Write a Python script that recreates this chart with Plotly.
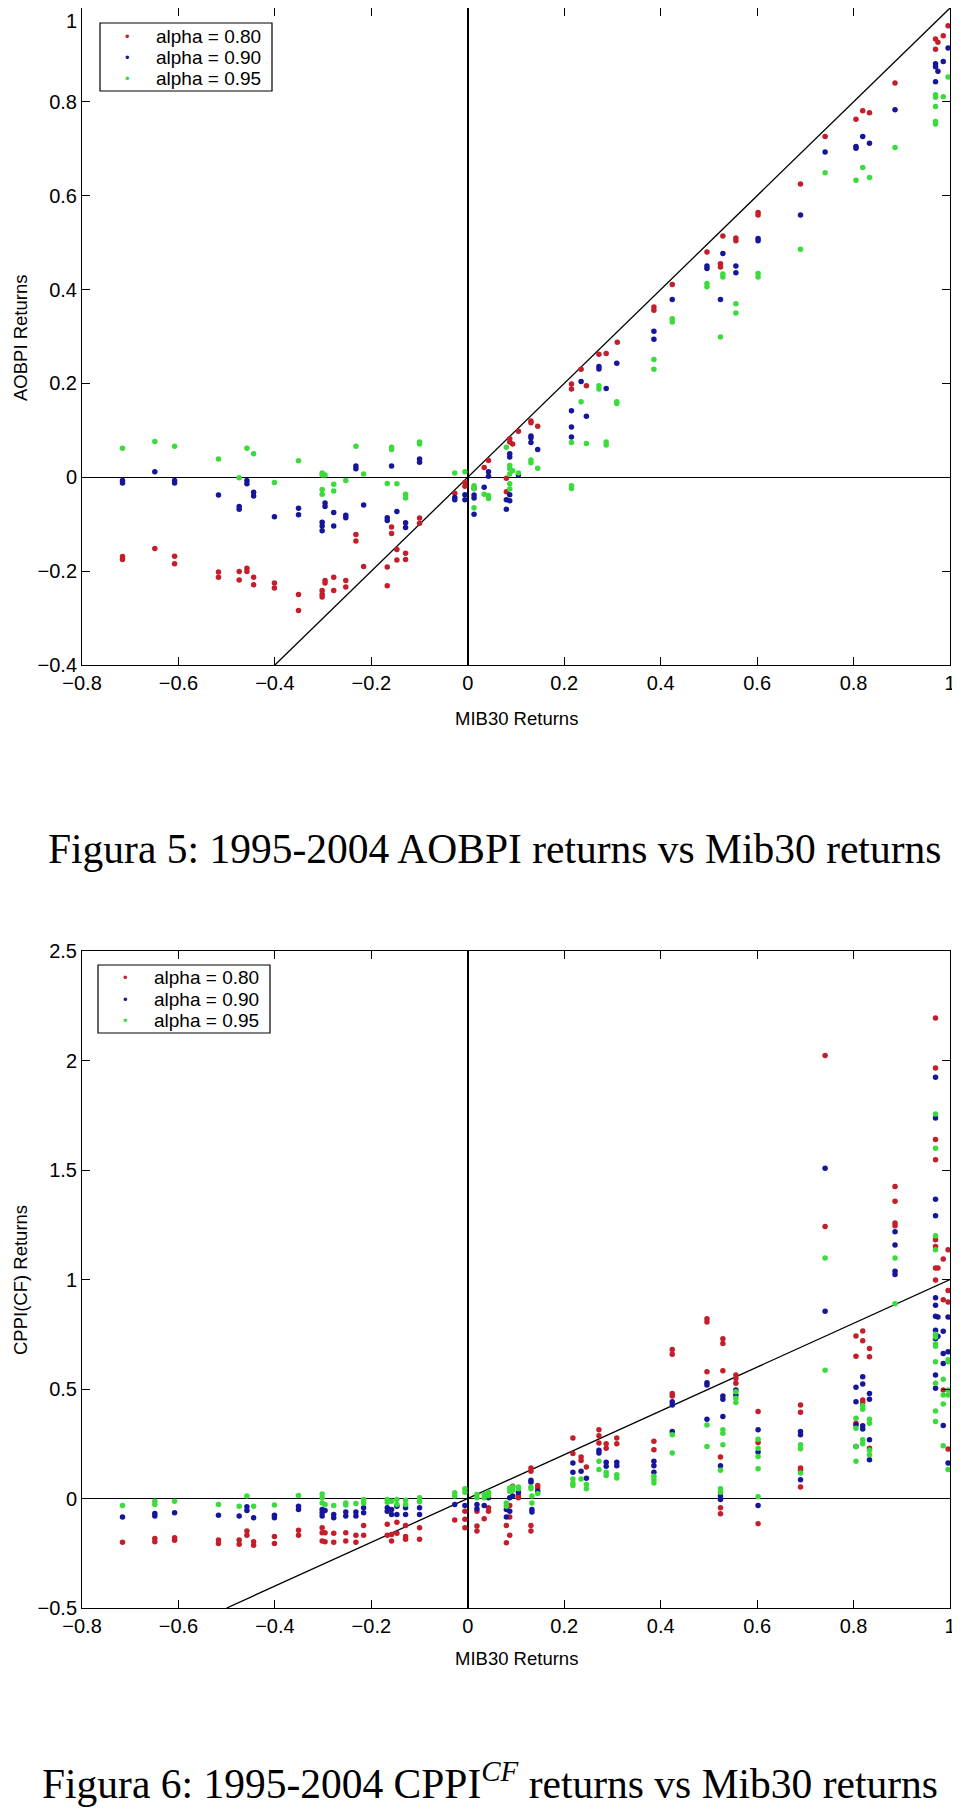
import plotly.graph_objects as go

# ---------------- Figure 5 : AOBPI returns vs MIB30 returns ----------------
aobpi_x_080 = [-0.716,-0.716,-0.649,-0.608,-0.608,-0.517,-0.517,-0.474,-0.474,-0.458,-0.458,-0.444,-0.444,
               -0.401,-0.401,-0.351,-0.351,-0.302,-0.302,-0.302,-0.296,-0.296,-0.278,-0.278,-0.253,-0.253,
               -0.232,-0.232,-0.216,-0.167,-0.167,-0.158,-0.158,-0.147,-0.147,-0.129,-0.129,-0.1,-0.1,
               -0.027,-0.006,-0.006,0.013,0.034,0.043,0.08,0.08,0.087,0.087,0.093,0.105,0.131,0.131,0.145,
               0.215,0.215,0.235,0.246,0.272,0.287,0.31,0.386,0.386,0.424,0.496,0.524,0.524,0.529,0.556,0.556,
               0.602,0.602,0.69,0.741,0.805,0.819,0.833,0.886,0.97,0.97,0.975,0.986,0.996]
aobpi_y_080 = [-0.169,-0.175,-0.152,-0.168,-0.184,-0.202,-0.213,-0.201,-0.219,-0.194,-0.201,-0.213,-0.229,
               -0.225,-0.236,-0.25,-0.284,-0.241,-0.249,-0.255,-0.22,-0.225,-0.213,-0.241,-0.22,-0.234,
               -0.122,-0.136,-0.19,-0.191,-0.231,-0.106,-0.12,-0.154,-0.176,-0.162,-0.175,-0.087,-0.098,
               -0.034,-0.011,-0.019,-0.024,0.021,0.036,-0.002,-0.031,0.082,0.075,0.071,0.098,0.12,0.116,0.109,
               0.199,0.188,0.23,0.195,0.262,0.264,0.288,0.363,0.356,0.411,0.48,0.455,0.448,0.514,0.51,0.504,
               0.564,0.559,0.625,0.726,0.763,0.781,0.777,0.84,0.934,0.912,0.927,0.941,0.962]

aobpi_x_090 = [-0.716,-0.716,-0.649,-0.608,-0.608,-0.517,-0.474,-0.474,-0.458,-0.458,-0.444,-0.444,-0.401,
               -0.351,-0.351,-0.302,-0.302,-0.302,-0.296,-0.296,-0.278,-0.278,-0.253,-0.253,-0.232,-0.232,
               -0.216,-0.167,-0.167,-0.158,-0.147,-0.129,-0.129,-0.1,-0.1,-0.027,-0.027,-0.006,-0.006,
               0.013,0.013,0.013,0.034,0.043,0.043,0.08,0.08,0.087,0.087,0.087,0.087,0.105,0.131,0.131,0.131,
               0.145,0.215,0.215,0.215,0.235,0.246,0.272,0.272,0.287,0.309,0.386,0.386,0.424,0.496,0.496,
               0.524,0.529,0.556,0.556,0.602,0.602,0.69,0.741,0.805,0.805,0.819,0.833,0.886,0.97,0.97,0.97,
               0.975,0.986,0.996]
aobpi_y_090 = [-0.007,-0.012,0.012,-0.007,-0.012,-0.038,-0.062,-0.068,-0.007,-0.014,-0.032,-0.04,-0.084,
               -0.066,-0.08,-0.096,-0.104,-0.114,-0.055,-0.062,-0.075,-0.104,-0.081,-0.086,0.024,0.018,
               -0.059,-0.086,-0.092,0.024,-0.073,-0.097,-0.107,0.039,0.032,-0.043,-0.048,-0.037,-0.048,
               -0.038,-0.044,-0.079,-0.021,0.012,0.002,-0.048,-0.068,0.05,0.043,-0.037,-0.05,0.005,0.088,0.084,0.074,
               0.059,0.142,0.107,0.086,0.204,0.13,0.236,0.231,0.189,0.243,0.311,0.294,0.379,0.45,0.445,
               0.379,0.477,0.45,0.436,0.509,0.504,0.559,0.693,0.705,0.701,0.726,0.712,0.783,0.881,0.875,0.843,
               0.865,0.886,0.915]

aobpi_x_095 = [-0.716,-0.649,-0.608,-0.517,-0.474,-0.458,-0.444,-0.401,-0.351,-0.302,-0.302,-0.302,-0.302,
               -0.296,-0.278,-0.278,-0.253,-0.232,-0.216,-0.167,-0.158,-0.158,-0.147,-0.129,-0.129,-0.1,-0.1,
               -0.027,-0.006,0.013,0.013,0.013,0.034,0.043,0.043,0.08,0.087,0.087,0.087,0.087,0.087,0.093,
               0.105,0.131,0.131,0.145,0.215,0.215,0.215,0.235,0.246,0.272,0.272,0.287,0.287,0.309,0.309,
               0.386,0.386,0.424,0.424,0.496,0.496,0.524,0.529,0.529,0.556,0.556,0.602,0.602,0.69,0.741,
               0.805,0.819,0.833,0.886,0.97,0.97,0.97,0.97,0.97,0.986,0.996]
aobpi_y_095 = [0.062,0.076,0.066,0.039,-0.001,0.062,0.05,-0.011,0.035,0.009,0.005,-0.026,-0.036,
               0.005,-0.015,-0.029,-0.007,0.066,0.007,-0.013,0.064,0.059,-0.014,-0.036,-0.044,0.075,0.071,
               0.009,0.012,-0.018,-0.024,-0.065,-0.036,-0.039,-0.045,0.064,0.025,0.018,0.007,-0.014,-0.025,0.014,
               0.009,0.037,0.031,0.019,0.074,-0.018,-0.024,0.161,0.072,0.195,0.188,0.075,0.069,0.161,0.157,
               0.251,0.23,0.338,0.331,0.413,0.406,0.299,0.433,0.427,0.37,0.35,0.434,0.427,0.486,0.649,
               0.633,0.66,0.639,0.703,0.815,0.81,0.79,0.758,0.753,0.811,0.853]

# ---------------- Figure 6 : CPPI(CF) returns vs MIB30 returns ----------------
cppi_x_080 = [-0.716,-0.649,-0.649,-0.608,-0.608,-0.517,-0.517,-0.474,-0.474,-0.458,-0.458,-0.444,-0.444,
              -0.401,-0.401,-0.351,-0.351,-0.302,-0.302,-0.302,-0.296,-0.296,-0.278,-0.278,-0.253,-0.253,
              -0.232,-0.232,-0.216,-0.216,-0.167,-0.167,-0.158,-0.158,-0.147,-0.147,-0.129,-0.129,-0.129,
              -0.1,-0.1,-0.027,-0.006,-0.006,-0.006,0.019,0.019,0.019,0.034,0.043,0.043,0.08,0.08,
              0.087,0.087,0.087,0.093,0.105,0.105,0.131,0.131,0.131,0.131,0.145,0.145,0.218,0.218,0.235,0.235,
              0.246,0.272,0.272,0.272,0.287,0.287,0.309,0.309,0.386,0.386,0.424,0.424,0.424,0.424,
              0.496,0.496,0.496,0.524,0.524,0.524,0.529,0.529,0.529,0.556,0.556,0.556,0.602,0.602,0.602,
              0.69,0.69,0.69,0.69,0.69,0.741,0.741,0.805,0.805,0.805,0.819,0.819,0.819,0.819,0.833,0.833,0.833,
              0.886,0.886,0.886,0.886,0.97,0.97,0.97,0.97,0.97,0.97,0.97,0.97,0.975,0.986,0.986,0.986,
              0.996,0.996,0.996,0.996]
cppi_y_080 = [-0.2,-0.183,-0.198,-0.179,-0.191,-0.189,-0.205,-0.189,-0.209,-0.148,-0.168,-0.198,-0.214,
              -0.174,-0.205,-0.145,-0.168,-0.133,-0.156,-0.194,-0.156,-0.198,-0.159,-0.2,-0.156,-0.194,
              -0.168,-0.2,-0.123,-0.168,-0.118,-0.168,-0.164,-0.194,-0.108,-0.159,-0.123,-0.174,-0.186,
              -0.133,-0.186,-0.098,-0.058,-0.095,-0.133,-0.058,-0.126,-0.148,-0.092,-0.042,-0.058,-0.123,-0.202,
              -0.032,-0.085,-0.168,0.056,0.014,0.003,0.139,0.124,-0.123,-0.148,0.059,0.048,0.276,0.205,0.189,0.174,
              0.144,0.314,0.286,0.253,0.25,0.23,0.276,0.25,0.261,0.223,0.68,0.659,0.48,0.468,
              0.821,0.806,0.579,0.189,-0.042,-0.07,0.73,0.708,0.583,0.564,0.548,0.526,0.397,0.256,-0.115,
              0.427,0.394,0.139,0.129,0.053,2.023,1.242,0.742,0.65,0.344,0.765,0.72,0.45,0.438,0.685,0.647,0.23,
              1.425,1.357,1.258,1.245,2.194,1.966,1.639,1.547,1.181,1.151,1.053,0.998,1.053,1.094,0.908,0.495,
              1.136,0.95,0.897,0.226]

cppi_x_090 = [-0.716,-0.649,-0.649,-0.608,-0.517,-0.474,-0.458,-0.458,-0.444,-0.401,-0.401,-0.351,-0.351,
              -0.302,-0.302,-0.302,-0.296,-0.278,-0.278,-0.253,-0.253,-0.232,-0.232,-0.216,-0.216,-0.167,-0.167,
              -0.158,-0.158,-0.147,-0.147,-0.129,-0.129,-0.1,-0.1,-0.027,-0.006,0.019,0.019,0.034,0.043,
              0.08,0.08,0.087,0.087,0.093,0.105,0.131,0.131,0.133,0.133,0.145,0.218,0.218,0.235,0.246,
              0.272,0.272,0.287,0.287,0.309,0.309,0.386,0.386,0.386,0.424,0.424,0.424,0.496,0.496,0.496,
              0.524,0.524,0.524,0.529,0.529,0.529,0.556,0.556,0.602,0.602,0.602,0.69,0.69,0.69,0.741,0.741,
              0.805,0.805,0.805,0.805,0.819,0.819,0.819,0.819,0.833,0.833,0.833,0.833,0.886,0.886,0.886,0.886,
              0.97,0.97,0.97,0.97,0.97,0.97,0.97,0.97,0.97,0.97,0.97,0.975,0.975,0.986,0.986,0.986,0.986,
              0.996,0.996,0.996]
cppi_y_090 = [-0.085,-0.068,-0.08,-0.065,-0.077,-0.08,-0.038,-0.055,-0.088,-0.077,-0.088,-0.035,-0.05,
              -0.05,-0.065,-0.08,-0.055,-0.073,-0.088,-0.062,-0.08,-0.062,-0.08,-0.042,-0.065,-0.042,-0.058,
              -0.05,-0.073,-0.035,-0.073,-0.042,-0.073,-0.042,-0.073,-0.027,-0.032,-0.027,-0.047,-0.032,0.003,
              -0.05,-0.085,0.003,-0.058,0.011,0.029,0.083,0.074,-0.05,-0.062,0.033,0.162,0.12,0.124,0.092,
              0.22,0.208,0.165,0.147,0.165,0.15,0.17,0.15,0.12,0.442,0.427,0.306,0.529,0.518,0.362,
              0.15,0.011,-0.005,0.468,0.453,0.374,0.495,0.473,0.314,0.212,-0.032,0.306,0.291,0.086,1.508,0.855,
              0.508,0.442,0.336,0.238,0.556,0.523,0.332,0.317,0.48,0.453,0.268,0.177,1.218,1.157,1.038,1.023,
              1.924,1.738,1.367,1.291,0.917,0.882,0.832,0.768,0.73,0.564,0.503,0.829,0.741,0.764,0.662,0.617,0.333,
              0.829,0.67,0.162]

cppi_x_095 = [-0.716,-0.649,-0.649,-0.608,-0.517,-0.474,-0.458,-0.444,-0.401,-0.351,-0.302,-0.302,-0.302,
              -0.296,-0.278,-0.253,-0.253,-0.232,-0.216,-0.216,-0.167,-0.167,-0.158,-0.147,-0.147,-0.129,-0.129,
              -0.1,-0.1,-0.027,-0.027,-0.006,-0.006,0.019,0.019,0.034,0.034,0.043,0.043,0.08,0.08,0.087,0.087,
              0.093,0.093,0.105,0.105,0.131,0.131,0.133,0.133,0.145,0.218,0.218,0.218,0.235,0.246,0.246,
              0.272,0.272,0.287,0.287,0.309,0.309,0.386,0.386,0.386,0.424,0.424,0.496,0.496,0.524,0.524,0.524,
              0.529,0.529,0.529,0.556,0.556,0.556,0.602,0.602,0.602,0.602,0.602,0.69,0.69,0.69,0.741,0.741,
              0.805,0.805,0.805,0.805,0.819,0.819,0.819,0.819,0.833,0.833,0.833,0.833,0.886,0.886,
              0.97,0.97,0.97,0.97,0.97,0.97,0.97,0.97,0.97,0.97,0.97,0.97,0.986,0.986,0.986,0.986,
              0.996,0.996,0.996,0.996,0.996]
cppi_y_095 = [-0.032,-0.012,-0.027,-0.012,-0.027,-0.035,0.011,-0.035,-0.03,0.014,0.021,0.003,-0.02,
              -0.027,-0.032,-0.02,-0.03,-0.023,-0.005,-0.02,-0.005,-0.017,-0.012,-0.005,-0.027,-0.008,-0.027,
              0.003,-0.015,0.026,0.011,0.044,0.029,0.018,0.003,0.018,0.003,0.029,0.014,-0.02,-0.035,0.048,0.033,
              0.053,0.038,0.053,0.044,0.053,0.044,0.011,-0.02,0.023,0.089,0.071,0.059,0.089,0.064,0.044,
              0.17,0.132,0.12,0.105,0.109,0.094,0.102,0.086,0.071,0.291,0.208,0.336,0.238,0.129,0.044,0.029,
              0.314,0.298,0.245,0.488,0.458,0.438,0.271,0.23,0.192,0.136,0.008,0.245,0.227,0.117,1.098,0.586,
              0.367,0.321,0.238,0.17,0.423,0.408,0.268,0.25,0.362,0.344,0.22,0.2,1.098,0.889,
              1.756,1.599,1.2,1.136,0.75,0.738,0.705,0.695,0.624,0.526,0.4,0.352,0.544,0.473,0.432,0.241,
              0.633,0.624,0.495,0.473,0.132]

# reference line y = x
ref_top_x = [-0.4, 1.0]
ref_bot_x = [-0.5, 1.0]

series_names = ["alpha = 0.80", "alpha = 0.90", "alpha = 0.95"]
series_colors = ["#C41E2A", "#16169A", "#3ADB3A"]

top_ticks_y = [-0.4, -0.2, 0, 0.2, 0.4, 0.6, 0.8, 1]
top_ticktext_y = ["\u22120.4", "\u22120.2", "0", "0.2", "0.4", "0.6", "0.8", ""]  # "1" drawn just below the page edge
bot_ticks_y = [-0.5, 0, 0.5, 1, 1.5, 2, 2.5]
ticks_x = [-0.8, -0.6, -0.4, -0.2, 0, 0.2, 0.4, 0.6, 0.8, 1]

# page is 960x1819; the HTML body adds an 8px margin, so the figure is placed at (8, 8)
OFF = 8
W, H = 960 - OFF, 1819 - 2 * OFF
def px_x(p):
    return (p - OFF) / W
def px_y(p):
    return 1 - (p - OFF) / H

fig = go.Figure()

top_data = [(aobpi_x_080, aobpi_y_080), (aobpi_x_090, aobpi_y_090), (aobpi_x_095, aobpi_y_095)]
bot_data = [(cppi_x_080, cppi_y_080), (cppi_x_090, cppi_y_090), (cppi_x_095, cppi_y_095)]

fig.add_trace(go.Scatter(x=ref_top_x, y=ref_top_x, mode="lines", line=dict(color="black", width=1.3),
                         showlegend=False, xaxis="x", yaxis="y", hoverinfo="skip"))
fig.add_trace(go.Scatter(x=ref_bot_x, y=ref_bot_x, mode="lines", line=dict(color="black", width=1.3),
                         showlegend=False, xaxis="x2", yaxis="y2", hoverinfo="skip"))

for (xs, ys), name, col in zip(top_data, series_names, series_colors):
    fig.add_trace(go.Scatter(x=xs, y=ys, mode="markers", name=name, showlegend=False,
                             marker=dict(color=col, size=5.5, line=dict(width=0)),
                             xaxis="x", yaxis="y"))
for (xs, ys), name, col in zip(bot_data, series_names, series_colors):
    fig.add_trace(go.Scatter(x=xs, y=ys, mode="markers", name=name, showlegend=False,
                             marker=dict(color=col, size=5.5, line=dict(width=0)),
                             xaxis="x2", yaxis="y2"))

SANS = "Liberation Sans, Arial, sans-serif"
tickfont = dict(family=SANS, size=20, color="black")
axis_common = dict(showline=True, linecolor="black", linewidth=1, mirror="ticks",
                   ticks="inside", ticklen=8, tickwidth=1.2, tickcolor="black",
                   showgrid=False, zeroline=True, zerolinecolor="black",
                   tickfont=tickfont, automargin=False, ticklabeloverflow="allow")

xdom = [px_x(82), px_x(950)]
fig.update_layout(
    width=W, height=H, autosize=False,
    margin=dict(l=0, r=0, t=0, b=0, pad=0),
    paper_bgcolor="white", plot_bgcolor="white",
    xaxis=dict(domain=xdom, range=[-0.8, 1], tickvals=ticks_x, anchor="y",
               zerolinewidth=2, **axis_common),
    yaxis=dict(domain=[px_y(665), px_y(8)], range=[-0.4, 1], tickvals=top_ticks_y,
               ticktext=top_ticktext_y, anchor="x", zerolinewidth=1.3, **axis_common),
    xaxis2=dict(domain=xdom, range=[-0.8, 1], tickvals=ticks_x, anchor="y2",
                zerolinewidth=2, **axis_common),
    yaxis2=dict(domain=[px_y(1608), px_y(951)], range=[-0.5, 2.5], tickvals=bot_ticks_y, anchor="x2",
                zerolinewidth=1.3, **axis_common),
    showlegend=False,
)

# legend boxes (drawn as a frame with text entries)
legend_boxes = [(100, 23, 272, 91, [37, 58, 79], 127, 154),
                (98, 965, 270, 1033, [978, 1000, 1021], 125, 152)]
shapes = []
annots = []
leg_font = dict(family=SANS, size=19, color="black")
for x0, y0, x1, y1, rows, mx, tx in legend_boxes:
    shapes.append(dict(type="rect", xref="paper", yref="paper",
                       x0=px_x(x0), x1=px_x(x1), y0=px_y(y1), y1=px_y(y0),
                       line=dict(color="black", width=1.2), fillcolor="white", layer="above"))
    for ry, name, col in zip(rows, series_names, series_colors):
        annots.append(dict(text="\u2022", x=px_x(mx), y=px_y(ry), xanchor="center", yanchor="middle",
                           font=dict(family=SANS, size=13, color=col)))
        annots.append(dict(text=name, x=px_x(tx), y=px_y(ry), xanchor="left", yanchor="middle",
                           font=leg_font))

lab_font = dict(family=SANS, size=18.5, color="black")
cap_font = dict(family="Liberation Serif, Times New Roman, serif", size=41.5, color="black")
annots += [
    dict(text="1", x=px_x(79), y=px_y(8), xanchor="right", yanchor="top", font=tickfont),
    dict(text="MIB30 Returns", x=px_x(516), y=px_y(718), xanchor="center", yanchor="middle", font=lab_font),
    dict(text="MIB30 Returns", x=px_x(516), y=px_y(1658), xanchor="center", yanchor="middle", font=lab_font),
    dict(text="AOBPI Returns", x=px_x(20), y=px_y(338), xanchor="center", yanchor="middle",
         textangle=-90, font=lab_font),
    dict(text="CPPI(CF) Returns", x=px_x(20), y=px_y(1280), xanchor="center", yanchor="middle",
         textangle=-90, font=lab_font),
    dict(text="Figura 5: 1995-2004 AOBPI returns vs Mib30 returns", x=px_x(46), y=px_y(849),
         xanchor="left", yanchor="middle", font=cap_font),
    dict(text="Figura 6: 1995-2004 CPPI<sup><i>CF</i></sup> returns vs Mib30 returns", x=px_x(40), y=px_y(1781),
         xanchor="left", yanchor="middle", font=cap_font),
]
for a in annots:
    a.update(xref="paper", yref="paper", showarrow=False)
fig.update_layout(annotations=annots, shapes=shapes)

fig.write_html("out.html")
